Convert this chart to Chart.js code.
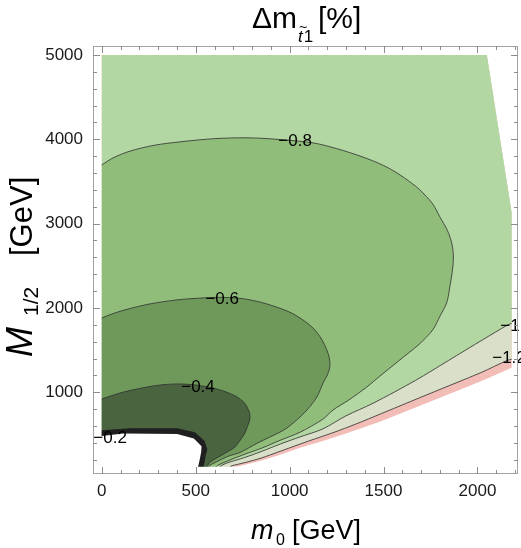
<!DOCTYPE html>
<html>
<head>
<meta charset="utf-8">
<script src="https://cdn.jsdelivr.net/npm/chart.js@4.4.1/dist/chart.umd.min.js"></script>
<style>
html,body{margin:0;padding:0;background:#ffffff;}
#wrap{width:521px;height:548px;position:relative;}
</style>
</head>
<body>
<div id="wrap"><canvas id="c" width="521" height="548"></canvas></div>
<script>
// ---------------- data (m0, M1/2 in GeV) ----------------
const xTickValues = [0, 500, 1000, 1500, 2000];
const yTickValues = [1000, 2000, 3000, 4000, 5000];
const levelLabels = ['−0.2', '−0.4', '−0.6', '−0.8', '−1.0', '−1.2'];
// where each level label sits (data coordinates)
const labelAt = [[44, 457], [512, 1062], [641, 2106], [1029, 3980], [2211, 1786], [2168, 1406]];

// outer boundary of the scanned region
const domainTop = [[0, 5000], [2050, 5000], [2182, 3128]];
const lowerEdge = [[2182, 1290], [2050, 1160], [1943, 1062], [1800, 935], [1677, 825], [1480, 650], [1300, 510], [1177, 420], [1055, 340], [938, 250], [850, 190], [762, 140], [725, 120]];
const bottomY = 120;

// contour lines
const contour12 = [[2182, 1390], [2161, 1380], [2020, 1234], [1754, 991], [1490, 748], [1350, 620], [1231, 520], [1100, 420], [1000, 340], [938, 290], [850, 220], [762, 165], [693, 128], [685, 120]];
const contour10 = [[2182, 1815], [2161, 1798], [2030, 1625], [1845, 1375], [1670, 1140], [1445, 870], [1300, 720], [1177, 565], [1055, 470], [950, 385], [853, 300], [760, 225], [672, 165], [640, 135], [630, 120]];
const contour08 = [[0, 3697], [60, 3780], [150, 3860], [280, 3930], [416, 3970], [600, 4008], [773, 4018], [933, 4000], [1124, 3958], [1250, 3890], [1390, 3790], [1500, 3690], [1571, 3602], [1650, 3480], [1693, 3401], [1760, 3240], [1800, 3080], [1840, 2920], [1863, 2771], [1872, 2620], [1869, 2486], [1853, 2249], [1836, 2059], [1800, 1900], [1762, 1739], [1690, 1570], [1587, 1383], [1480, 1190], [1411, 1062], [1310, 900], [1231, 789], [1177, 680], [1055, 525], [950, 430], [853, 338], [780, 280], [709, 220], [619, 136], [612, 120]];
const contour06 = [[0, 1881], [50, 1925], [120, 1975], [250, 2045], [400, 2095], [550, 2120], [641, 2125], [750, 2110], [850, 2065], [950, 1995], [1010, 1940], [1055, 1881], [1100, 1810], [1134, 1739], [1170, 1630], [1198, 1501], [1212, 1400], [1214, 1300], [1200, 1200], [1180, 1120], [1145, 943], [1080, 760], [1000, 600], [960, 540], [830, 398], [736, 285], [672, 240], [603, 166], [576, 136], [570, 120]];
const contour04 = [[0, 920], [60, 965], [120, 1005], [241, 1062], [330, 1090], [416, 1098], [500, 1085], [592, 1050], [660, 1005], [720, 944], [755, 885], [773, 825], [785, 765], [789, 706], [785, 650], [775, 590], [762, 516], [740, 440], [709, 350], [675, 300], [640, 255], [600, 205], [576, 172], [565, 136], [560, 120]];
const contour02 = [[0, 548], [151, 572], [401, 572], [496, 524], [547, 420], [562, 320], [553, 250], [546, 160], [542, 120]];
// region with no data (white)
const noData = [[-100, 481], [0, 481], [113, 511], [401, 505], [490, 452], [531, 360], [529, 290], [521, 200], [513, 120], [513, -200], [-100, -200]];

// ---------------- styles ----------------
const COL_PINK = '#f2bdb7';
const COL_BEIGE = '#d9dfc8';
const COL_LIGHT = '#b3d7a2';
const COL_MID = '#91bd7b';
const COL_MIDDARK = '#6f985b';
const COL_DARK = '#4b6440';
const COL_BLACK = '#1f1f1f';
const LINE_COL = 'rgba(45,45,45,0.8)';
const FONT = '"Liberation Sans", Arial, Helvetica, sans-serif';

const toXY = pts => pts.map(p => ({x: p[0], y: p[1]}));
const fromRight = line => [...domainTop, ...line, [0, bottomY]];
const fromLeft = line => [...line, [0, bottomY]];

const layers = [
  {pts: fromRight(lowerEdge), color: COL_PINK},
  {pts: fromRight(contour12), color: COL_BEIGE},
  {pts: fromRight(contour10), color: COL_LIGHT},
  {pts: fromLeft(contour08), color: COL_MID},
  {pts: fromLeft(contour06), color: COL_MIDDARK},
  {pts: fromLeft(contour04), color: COL_DARK},
  {pts: fromLeft(contour02), color: COL_BLACK},
  {pts: noData, color: '#ffffff'}
];
const strokes = [contour12, contour10, contour08, contour06, contour04];

const datasets = [];
layers.forEach(l => datasets.push({
  data: toXY(l.pts), showLine: true, fill: 'shape', backgroundColor: l.color,
  borderColor: 'rgba(0,0,0,0)', borderWidth: 0, pointRadius: 0, tension: 0
}));
strokes.forEach(s => datasets.push({
  data: toXY(s), showLine: true, fill: false, borderColor: LINE_COL,
  borderWidth: 1, pointRadius: 0, tension: 0.3
}));
datasets.forEach((d, i) => { d.order = datasets.length - i; });

// ---------------- plugins ----------------
const frameTicks = {
  id: 'frameTicks',
  afterDraw(chart) {
    const {ctx, chartArea: a, scales: {x, y}} = chart;
    ctx.save();
    ctx.strokeStyle = '#a3a3a3';
    ctx.lineWidth = 1;
    ctx.strokeRect(Math.round(a.left) + 0.5, Math.round(a.top) + 0.5,
      Math.round(a.right - a.left) - 1, Math.round(a.bottom - a.top) - 1);
    ctx.strokeStyle = '#8c8c8c';
    ctx.beginPath();
    for (let v = 0; v <= 2200; v += 100) {
      const px = Math.round(x.getPixelForValue(v)) + 0.5;
      const len = (v % 500 === 0) ? 7 : 4;
      ctx.moveTo(px, a.bottom); ctx.lineTo(px, a.bottom - len);
      ctx.moveTo(px, a.top); ctx.lineTo(px, a.top + len);
    }
    for (let v = 200; v <= 5000; v += 200) {
      const py = Math.round(y.getPixelForValue(v)) + 0.5;
      const len = (v % 1000 === 0) ? 7 : 4;
      ctx.moveTo(a.left, py); ctx.lineTo(a.left + len, py);
      ctx.moveTo(a.right, py); ctx.lineTo(a.right - len, py);
    }
    ctx.stroke();
    ctx.restore();
  }
};

const contourLabels = {
  id: 'contourLabels',
  afterDatasetsDraw(chart) {
    const {ctx, scales: {x, y}} = chart;
    ctx.save();
    ctx.fillStyle = '#000';
    ctx.font = '17px ' + FONT;
    ctx.textAlign = 'center';
    ctx.textBaseline = 'middle';
    levelLabels.forEach((t, i) => {
      ctx.fillText(t, x.getPixelForValue(labelAt[i][0]), y.getPixelForValue(labelAt[i][1]));
    });
    ctx.restore();
  }
};

const titles = {
  id: 'titles',
  afterDraw(chart) {
    const ctx = chart.ctx;
    ctx.save();
    ctx.fillStyle = '#000';
    ctx.textBaseline = 'alphabetic';
    ctx.textAlign = 'left';
    // title  Δm_{t̃1} [%]
    let tx = 252; const tb = 28;
    ctx.font = '30px ' + FONT;
    ctx.fillText('Δm', tx, tb);
    tx += ctx.measureText('Δm').width + 1;
    ctx.font = 'italic 17px ' + FONT;
    ctx.fillText('t', tx, tb + 14);
    const tW = ctx.measureText('t').width;
    ctx.font = '14px ' + FONT;
    ctx.fillText('~', tx + 1, tb + 4);
    tx += tW + 1;
    ctx.font = '17px ' + FONT;
    ctx.fillText('1', tx, tb + 14);
    ctx.font = '30px ' + FONT;
    ctx.fillText('[%]', 318, tb);

    // x axis label  m_0[GeV]
    ctx.font = 'italic 27px ' + FONT;
    ctx.fillText('m', 251, 539);
    ctx.font = '16px ' + FONT;
    ctx.fillText('0', 276, 545);
    ctx.font = '27px ' + FONT;
    ctx.fillText('[GeV]', 292, 539);

    // y axis label  M_{1/2} [GeV]  (rotated)
    ctx.translate(32, 0);
    ctx.rotate(-Math.PI / 2);
    ctx.font = 'italic 36px ' + FONT;
    ctx.fillText('M', -357, 0);
    ctx.font = '21px ' + FONT;
    ctx.fillText('1/2', -316, 6);
    ctx.font = '31px ' + FONT;
    ctx.fillText('[GeV]', -256, 0);
    ctx.restore();
  }
};

new Chart(document.getElementById('c'), {
  type: 'scatter',
  data: {datasets},
  options: {
    responsive: false,
    animation: false,
    devicePixelRatio: 1,
    layout: {padding: {left: 0, right: 3, top: 46, bottom: 0}},
    plugins: {legend: {display: false}, tooltip: {enabled: false}, title: {display: false}},
    scales: {
      x: {
        type: 'linear', min: -47, max: 2216,
        grid: {display: false, drawTicks: false}, border: {display: false},
        afterBuildTicks(s) { s.ticks = xTickValues.map(v => ({value: v})); },
        ticks: {autoSkip: false, maxRotation: 0, callback: v => String(v),
          padding: 7, color: '#1a1a1a', font: {family: FONT, size: 17}},
        afterFit(s) { s.height = 74; }
      },
      y: {
        type: 'linear', min: 30, max: 5107,
        grid: {display: false, drawTicks: false}, border: {display: false},
        afterBuildTicks(s) { s.ticks = yTickValues.map(v => ({value: v})); },
        ticks: {autoSkip: false, callback: v => String(v),
          padding: 10, color: '#1a1a1a', font: {family: FONT, size: 17}},
        afterFit(s) { s.width = 93; }
      }
    }
  },
  plugins: [contourLabels, frameTicks, titles]
});
</script>
</body>
</html>
